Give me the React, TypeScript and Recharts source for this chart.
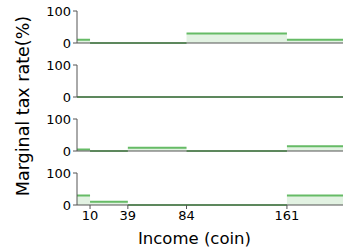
import { Area, ComposedChart, Line, XAxis, YAxis } from "recharts";

const BRACKETS = [0, 10, 39, 84, 161, 204];
const X_TICKS = [10, 39, 84, 161];
const Y_TICKS = [0, 100];

const RATES_A = [10, 0, 0, 30, 10];
const RATES_B = [0, 0, 0, 0, 0];
const RATES_C = [5, 0, 10, 0, 15];
const RATES_D = [30, 10, 0, 0, 30];

const PANELS = [RATES_A, RATES_B, RATES_C, RATES_D];

const FONT = "'DejaVu Sans', sans-serif";
const AXIS = "#555";

function toSteps(rates: number[]) {
  return BRACKETS.map((income, i) => ({
    income,
    rate: rates[Math.min(i, rates.length - 1)],
  }));
}

// one flat segment per bracket, split by null gaps (no vertical risers)
function toSegments(rates: number[]) {
  const out: { income: number; seg: number | null }[] = [];
  rates.forEach((rate, i) => {
    out.push({ income: BRACKETS[i], seg: rate });
    out.push({ income: BRACKETS[i + 1], seg: rate });
    out.push({ income: BRACKETS[i + 1], seg: null });
  });
  return out;
}

function Panel({ rates, last }: { rates: number[]; last: boolean }) {
  const top = 8;
  const height = last ? 73 : 53;
  return (
    <ComposedChart
      width={352}
      height={height}
      data={toSteps(rates)}
      margin={{ top, right: 9, bottom: 0, left: 0 }}
    >
      <XAxis
        dataKey="income"
        type="number"
        domain={[0, 204]}
        ticks={X_TICKS}
        allowDataOverflow
        allowDuplicatedCategory
        height={last ? 33 : 13}
        tick={last ? { fontSize: 13, fill: "#000", fontFamily: FONT } : false}
        tickSize={4}
        tickMargin={2}
        stroke={AXIS}
        interval={0}
      />
      <XAxis
        xAxisId="top"
        orientation="top"
        dataKey="income"
        type="number"
        domain={[0, 204]}
        height={0}
        tick={false}
        tickLine={false}
        stroke={AXIS}
      />
      <YAxis
        type="number"
        domain={[0, 100]}
        ticks={Y_TICKS}
        width={77}
        tick={{ fontSize: 13, fill: "#000", fontFamily: FONT }}
        tickSize={4}
        tickMargin={2}
        stroke={AXIS}
        interval={0}
      />
      <YAxis
        yAxisId="right"
        orientation="right"
        domain={[0, 100]}
        width={0}
        tick={false}
        tickLine={false}
        stroke={AXIS}
      />
      <Area
        type="stepAfter"
        dataKey="rate"
        stroke="none"
        fill="#e2f2e2"
        fillOpacity={1}
        dot={false}
        activeDot={false}
        isAnimationActive={false}
      />
      <Line
        data={toSegments(rates)}
        type="linear"
        dataKey="seg"
        stroke="#66bb66"
        strokeWidth={2}
        dot={false}
        activeDot={false}
        connectNulls={false}
        isAnimationActive={false}
      />
    </ComposedChart>
  );
}

export default function App() {
  const tops = [3, 57, 111, 165];
  return (
    <div
      style={{
        position: "absolute",
        left: 0,
        top: 0,
        width: 352,
        height: 249,
        background: "#fff",
        fontFamily: FONT,
        overflow: "hidden",
      }}
    >
      {PANELS.map((rates, i) => (
        <div key={i} style={{ position: "absolute", left: 0, top: tops[i] }}>
          <Panel rates={rates} last={i === PANELS.length - 1} />
        </div>
      ))}
      <div
        style={{
          position: "absolute",
          left: 23,
          top: 106,
          transform: "translate(-50%, -50%) rotate(-90deg)",
          fontSize: 17.5,
          whiteSpace: "nowrap",
          color: "#000",
        }}
      >
        Marginal tax rate(%)
      </div>
      <div
        style={{
          position: "absolute",
          left: 194.5,
          top: 238,
          transform: "translate(-50%, -50%)",
          fontSize: 16.5,
          whiteSpace: "nowrap",
          color: "#000",
        }}
      >
        Income (coin)
      </div>
    </div>
  );
}
